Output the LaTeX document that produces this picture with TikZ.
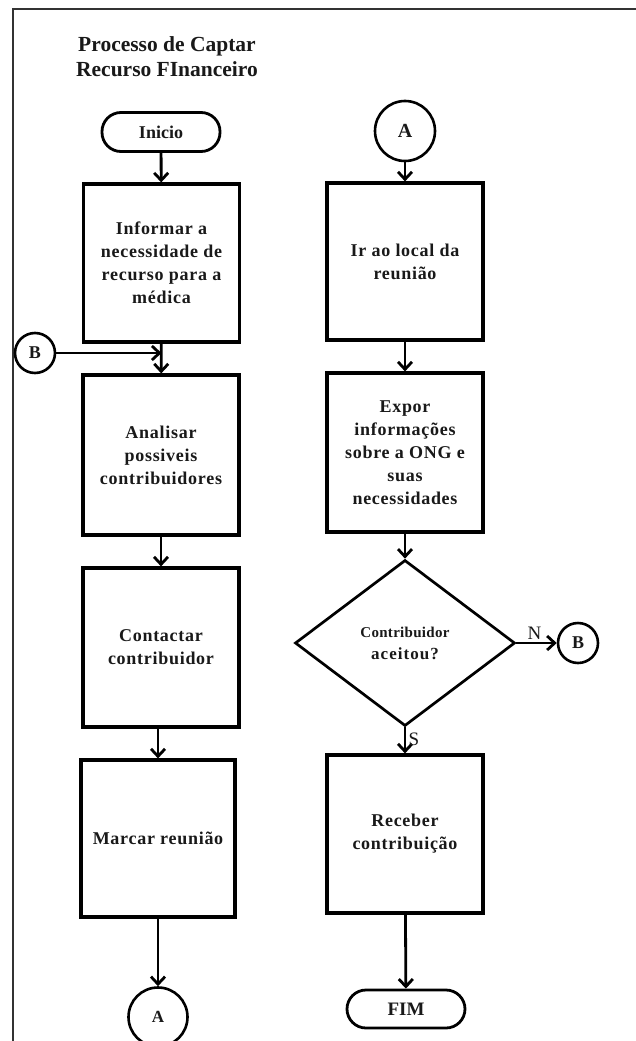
\documentclass[tikz,border=0pt]{standalone}
\usepackage{fontspec}
\setmainfont{Liberation Serif}
\usetikzlibrary{arrows.meta,shapes.geometric}

\tikzset{
  x=1pt, y=-1pt,
  every node/.style={font=\bfseries, text=black!90},
  stepbox/.style={draw=black, line width=3.2pt, inner sep=2pt, align=center,
    font=\fontsize{18}{23}\selectfont\bfseries\addfontfeature{LetterSpace=4}},
  terminal/.style={draw=black, line width=2.8pt, rounded corners=19pt,
    minimum width=118pt, minimum height=39pt,
    font=\fontsize{18}{22}\selectfont\bfseries},
  link/.style={draw=black, line width=2.6pt, circle, inner sep=0pt},
  decision/.style={draw=black, line width=2.7pt, diamond, aspect=1.325,
    inner sep=0pt, minimum width=220pt, minimum height=166pt, align=center,
    font=\fontsize{17}{22}\selectfont\bfseries},
  flow/.style={line width=2.8pt, -{Straight Barb[length=7.5pt,width=14pt]}},
  branch/.style={font=\fontsize{19}{22}\selectfont\mdseries}
}

\begin{document}
\begin{tikzpicture}
  \clip (0,0) rectangle (636,1041);
  \fill[white] (0,0) rectangle (636,1041);

  % page frame (top and left edges)
  \draw[line width=1.2pt, black!80] (13,1041) -- (13,9) -- (636,9);

  % title
  \node[align=center, font=\fontsize{21.5}{25}\selectfont\bfseries] (title) at (167,57)
    {Processo de Captar\\Recurso FInanceiro};

  % left column
  \node[terminal] (inicio) at (161,132) {Inicio};
  \node[stepbox, minimum width=156pt, minimum height=158pt] (b1) at (161.5,263)
    {Informar a\\necessidade de\\recurso para a\\médica};
  \node[stepbox, minimum width=156pt, minimum height=160pt] (b2) at (161,455)
    {Analisar\\possiveis\\contribuidores};
  \node[stepbox, minimum width=156pt, minimum height=159pt] (b3) at (161,647.5)
    {Contactar\\contribuidor};
  \node[stepbox, minimum width=154pt, minimum height=157pt] (b4) at (158,838.5)
    {Marcar reunião};
  \node[link, minimum size=59pt, font=\fontsize{17}{20}\selectfont\bfseries] (aL) at (158,1017) {A};
  \node[link, minimum size=40pt, font=\fontsize{18}{20}\selectfont\bfseries] (bL) at (35,353) {B};

  % right column
  \node[link, minimum size=60pt, font=\fontsize{20}{22}\selectfont\bfseries] (aR) at (405,131) {A};
  \node[stepbox, minimum width=156pt, minimum height=157pt] (b5) at (405,261.5)
    {Ir ao local da\\reunião};
  \node[stepbox, minimum width=156pt, minimum height=159pt] (b6) at (405,452.5)
    {Expor\\informações\\sobre a ONG e\\suas\\necessidades};
  \node[decision] (dec) at (405,643)
    {{\fontsize{15}{22}\selectfont\addfontfeature{LetterSpace=2}Contribuidor}\\
     {\addfontfeature{LetterSpace=6}aceitou?}};
  \node[link, minimum size=40pt, font=\fontsize{18}{20}\selectfont\bfseries] (bR) at (578,643) {B};
  \node[stepbox, minimum width=156pt, minimum height=158pt] (b7) at (405,834)
    {Receber\\contribuição};
  \node[terminal, minimum height=38pt, font=\fontsize{19}{22}\selectfont\bfseries] (fim) at (406,1009) {FIM};

  % connectors, left column
  \draw[flow] (inicio) -- (b1);
  \draw[flow] (b1) -- (b2);
  \draw[flow] (bL) -- (bL -| b1.south);
  \draw[flow] (b2) -- (b3);
  \draw[flow] (b3.south -| b4.north) -- (b4);
  \draw[flow] (b4) -- (aL);

  % connectors, right column
  \draw[flow] (aR) -- (b5);
  \draw[flow] (b5) -- (b6);
  \draw[flow] (b6) -- (dec);
  \draw[flow] (dec.south) -- (b7.north) node[branch, pos=0.45, right=-1pt] (s) {S};
  \draw[flow] (dec.east) -- (bR.west) node[branch, pos=0.45, above=-1pt] (n) {N};
  \draw[flow] (b7) -- (fim);
\end{tikzpicture}
\end{document}
